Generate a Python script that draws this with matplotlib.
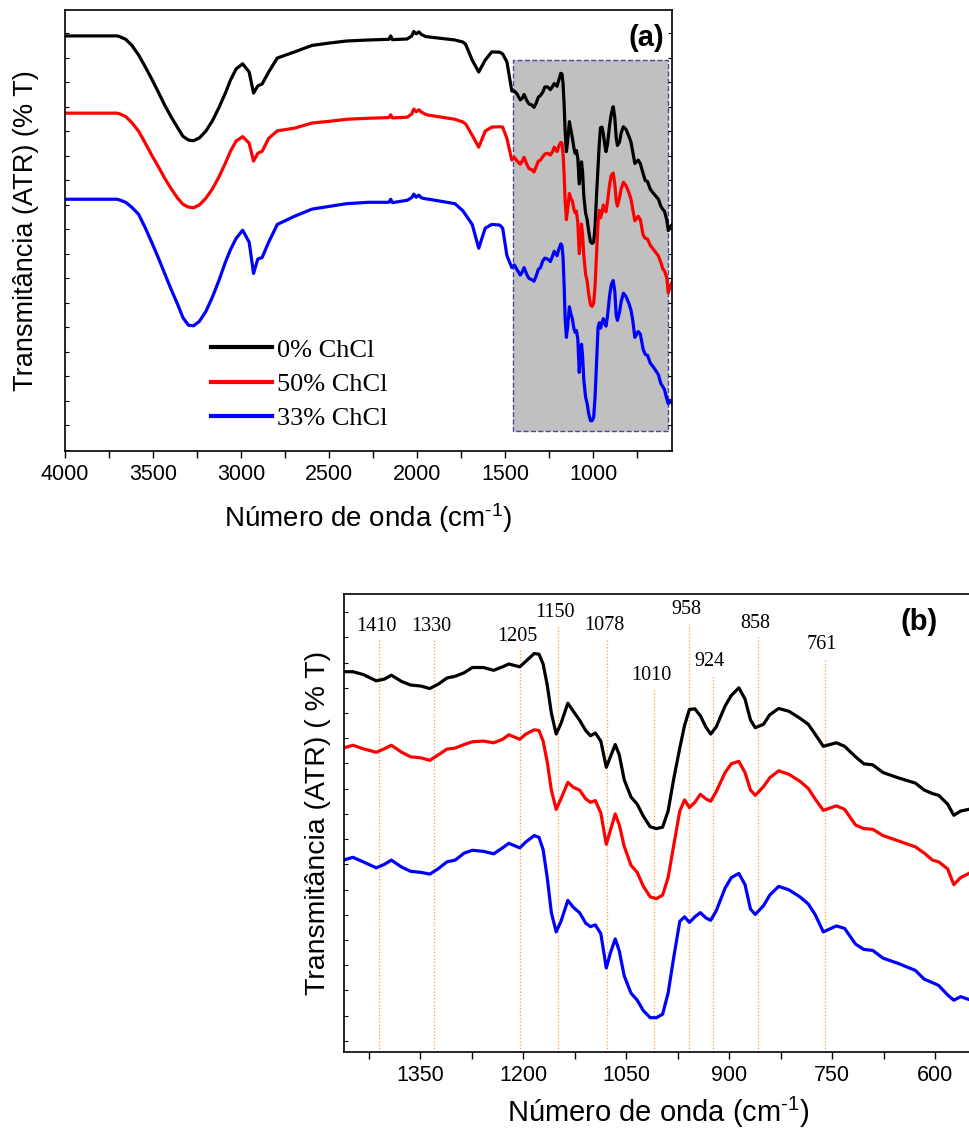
import matplotlib.pyplot as plt
from matplotlib.patches import Rectangle
from matplotlib.ticker import MultipleLocator

plt.rcParams['font.family'] = ['Liberation Sans', 'DejaVu Sans']
plt.rcParams['mathtext.fontset'] = 'custom'
plt.rcParams['mathtext.rm'] = 'Liberation Sans'
plt.rcParams['mathtext.default'] = 'regular'

# número de onda (cm-1): região alta (só no painel a) e região de impressão digital
wn_hi = [4000, 3705, 3690, 3655, 3620, 3582, 3545, 3508, 3470, 3434, 3397, 3360, 3330, 3299,
         3270, 3237, 3200, 3163, 3125, 3089, 3060, 3028, 2991, 2954, 2929, 2905, 2880, 2843,
         2794, 2696, 2597, 2499, 2400, 2277, 2160, 2150, 2140, 2056, 2030, 2019, 2005, 1990,
         1975, 1950, 1933, 1785, 1740, 1724, 1687, 1650, 1613, 1576, 1530, 1514, 1490]
wn_fp = [1462, 1448, 1433, 1414, 1402, 1392, 1377, 1364, 1349, 1336, 1324, 1311, 1299, 1286,
         1274, 1258, 1243, 1230, 1221, 1205, 1196, 1184, 1177, 1171, 1165, 1159, 1152, 1145,
         1135, 1127, 1118, 1109, 1102, 1095, 1087, 1079, 1073, 1066, 1060, 1053, 1043, 1034,
         1025, 1015, 1006, 997, 989, 981, 972, 965, 958, 950, 942, 934, 927, 919, 906, 897,
         886, 877, 869, 862, 850, 841, 828, 813, 797, 785, 775, 763, 744, 732, 716, 704, 691,
         676, 654, 629, 616, 604, 595, 582, 573, 563, 551]

# transmitância (unidades arbitrárias)
t0_hi = [1000, 1000, 998, 990, 972, 944, 910, 874, 835, 797, 762, 730, 705, 694, 692, 700, 720,
         750, 790, 832, 870, 903, 918, 894, 832, 853, 859, 894, 935, 953, 972, 979, 985, 988,
         990, 1000, 989, 991, 1000, 1013, 1006, 1012, 1004, 998, 997, 988, 982, 975, 929, 894,
         929, 953, 952, 947, 924]
t50_hi = [1000, 1000, 998, 990, 972, 947, 913, 877, 843, 809, 778, 750, 732, 724, 722, 730, 750,
          777, 813, 853, 888, 918, 931, 912, 859, 882, 888, 926, 948, 956, 971, 976, 982, 985,
          987, 995, 986, 988, 998, 1012, 1004, 1010, 1003, 996, 994, 982, 974, 968, 935, 900,
          947, 959, 960, 959, 926]
t33_hi = [1000, 1000, 998, 991, 976, 956, 917, 874, 828, 782, 735, 691, 652, 630, 628, 641, 670,
          712, 762, 815, 852, 885, 909, 874, 782, 824, 829, 874, 926, 950, 971, 979, 987, 991,
          991, 1000, 990, 997, 1005, 1015, 1006, 1012, 1004, 1001, 1000, 987, 966, 954, 926, 856,
          915, 926, 924, 915, 835]

t0_fp = [838, 838, 830, 812, 817, 828, 810, 800, 797, 790, 802, 820, 825, 835, 850, 850, 842,
         852, 860, 852, 868, 890, 888, 860, 800, 720, 660, 690, 748, 725, 700, 670, 655, 663,
         640, 565, 595, 630, 600, 530, 480, 460, 425, 395, 390, 394, 440, 530, 620, 685, 730,
         732, 712, 680, 660, 680, 740, 770, 792, 760, 700, 678, 688, 715, 733, 725, 705, 688,
         660, 625, 635, 625, 595, 575, 572, 550, 535, 520, 500, 490, 485, 460, 428, 440, 445]
t50_fp = [862, 870, 860, 850, 860, 870, 850, 837, 834, 827, 842, 859, 862, 872, 880, 882, 877,
          887, 900, 887, 902, 914, 912, 882, 822, 742, 687, 717, 764, 750, 742, 717, 707, 712,
          677, 587, 627, 674, 642, 582, 527, 507, 467, 437, 432, 442, 492, 582, 682, 714, 692,
          707, 730, 717, 710, 737, 792, 817, 824, 792, 742, 727, 752, 777, 797, 787, 767, 747,
          717, 684, 697, 687, 642, 632, 630, 612, 597, 580, 562, 542, 537, 517, 472, 492, 504]
t33_fp = [799, 807, 794, 777, 787, 799, 779, 767, 764, 759, 774, 794, 799, 819, 827, 824, 817,
          834, 847, 834, 851, 869, 864, 829, 749, 649, 594, 624, 684, 664, 649, 619, 609, 614,
          589, 491, 534, 574, 539, 469, 419, 399, 369, 349, 349, 359, 419, 519, 624, 637, 621,
          637, 649, 634, 627, 654, 719, 749, 761, 729, 659, 644, 669, 699, 724, 714, 694, 674,
          644, 594, 611, 604, 559, 544, 541, 519, 504, 484, 459, 449, 441, 414, 399, 409, 401]

labels = ['0% ChCl', '50% ChCl', '33% ChCl']
colors = ['black', 'red', 'blue']
series_hi = [t0_hi, t50_hi, t33_hi]
series_fp = [t0_fp, t50_fp, t33_fp]
offsets_a = [0, -227, -480]
offsets_b = [0, -242, -499]

bands = [1410, 1330, 1205, 1150, 1078, 1010, 958, 924, 858, 761]
band_text_y = [0.929, 0.929, 0.908, 0.959, 0.932, 0.823, 0.965, 0.852, 0.935, 0.889]

xlabel = r'Número de onda (cm$^{\text{-}1}$)'

fig = plt.figure(figsize=(9.7, 11.29), dpi=100)

# ---------- painel (a) ----------
ax1 = fig.add_axes([0.0670, 0.6005, 0.6258, 0.3906])
ax1.add_patch(Rectangle((574, -161), 880, 1090, facecolor='#c0c0c0', edgecolor='#4a4a9c',
                        linestyle='--', linewidth=1.0, zorder=0))
for hi, fp, off, c, lab in zip(series_hi, series_fp, offsets_a, colors, labels):
    ax1.plot(wn_hi + wn_fp, [v + off for v in hi + fp], color=c, lw=2.3, label=lab,
             solid_joinstyle='round', zorder=2)
ax1.set_xlim(4000, 552)
ax1.set_ylim(-220, 1076)
ax1.xaxis.set_major_locator(MultipleLocator(500))
ax1.xaxis.set_minor_locator(MultipleLocator(250))
ax1.yaxis.set_major_locator(MultipleLocator(72))
ax1.tick_params(axis='x', which='both', direction='out', length=5, width=1, labelsize=15.5, pad=4)
ax1.tick_params(axis='y', which='both', direction='in', length=3, width=0.8,
                left=True, right=True, labelleft=False)
ax1.set_xlabel(xlabel, fontsize=20, va='center')
ax1.xaxis.set_label_coords(0.5, -0.152)
ax1.set_ylabel('Transmitância (ATR) (% T)', fontsize=19.5, va='center')
ax1.yaxis.set_label_coords(-0.064, 0.5)
ax1.text(0.957, 0.937, '(a)', transform=ax1.transAxes, fontsize=21, fontweight='bold',
         ha='center', va='center')
leg = ax1.legend(loc='upper left', bbox_to_anchor=(0.219, 0.286), frameon=False, borderpad=0,
                 handlelength=2.3, handletextpad=0.2, labelspacing=0.41,
                 prop={'family': 'Liberation Serif', 'size': 19})
for line in leg.get_lines():
    line.set_linewidth(3)
for s in ax1.spines.values():
    s.set_linewidth(1.2)

# ---------- painel (b) ----------
ax2 = fig.add_axes([0.3546, 0.0682, 0.6485, 0.4057])
for fp, off, c in zip(series_fp, offsets_b, colors):
    ax2.plot(wn_fp, [v + off for v in fp], color=c, lw=2.3, solid_joinstyle='round', zorder=2)
for b, ty in zip(bands, band_text_y):
    ax2.axvline(b, ymin=0, ymax=ty - 0.03, color='#ff9a3c', lw=0.9, ls=':', zorder=1)
    ax2.text(b + 4, ty, str(b), transform=ax2.get_xaxis_transform(), fontsize=14.5,
             family='Liberation Serif', ha='center', va='center')
ax2.set_xlim(1461, 545)
ax2.set_ylim(-248, 1060)
ax2.xaxis.set_major_locator(MultipleLocator(150))
ax2.xaxis.set_minor_locator(MultipleLocator(75))
ax2.yaxis.set_major_locator(MultipleLocator(72))
ax2.tick_params(axis='x', which='both', direction='out', length=5, width=1, labelsize=15.5, pad=4)
ax2.tick_params(axis='y', which='both', direction='in', length=3, width=0.8,
                left=True, right=True, labelleft=False)
ax2.set_xlabel(xlabel, fontsize=21, va='center')
ax2.xaxis.set_label_coords(0.5, -0.131)
ax2.set_ylabel('Transmitância (ATR) ( % T)', fontsize=20.5, va='center')
ax2.yaxis.set_label_coords(-0.041, 0.5)
ax2.text(0.914, 0.939, '(b)', transform=ax2.transAxes, fontsize=21, fontweight='bold',
         ha='center', va='center')
for s in ax2.spines.values():
    s.set_linewidth(1.2)

fig.savefig('out.png', dpi=100)
